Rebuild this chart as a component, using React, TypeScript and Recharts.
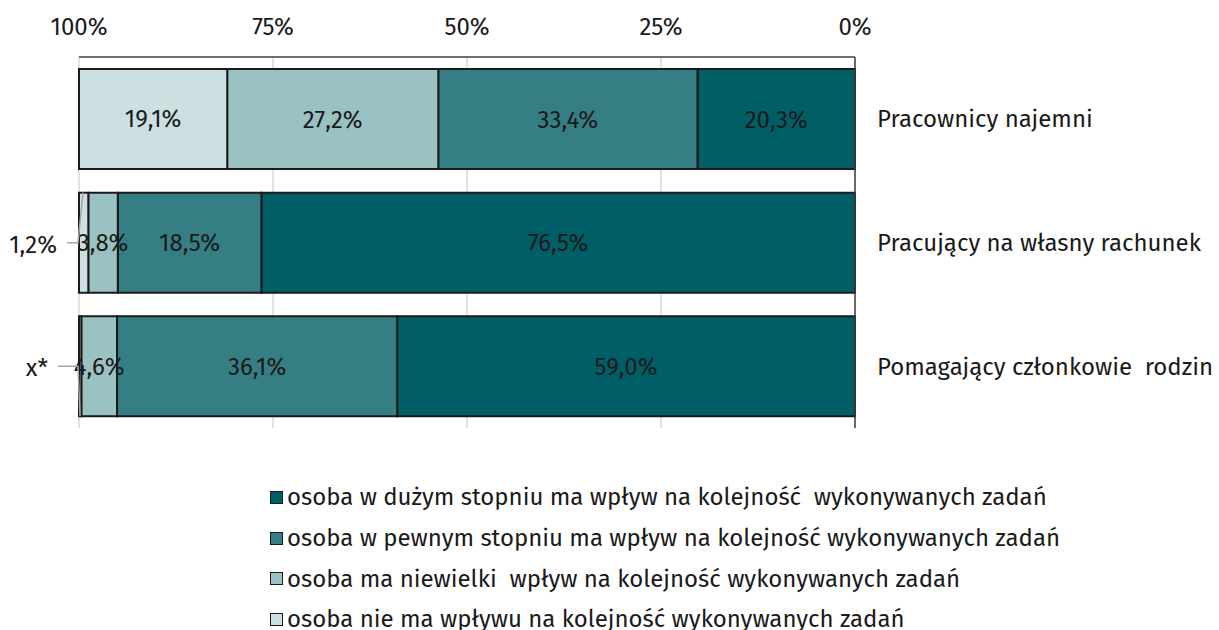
import React from "react";
import { BarChart, Bar, XAxis, YAxis, CartesianGrid, LabelList, Legend } from "recharts";

document.body.style.margin = "0";

const categories = ["Pracownicy najemni", "Pracujący na własny rachunek", "Pomagający członkowie\u00a0 rodzin"];
const duzy = [20.3, 76.5, 59.0];
const pewny = [33.4, 18.5, 36.1];
const niewielki = [27.2, 3.8, 4.6];
const brak = [19.1, 1.2, 0.3];
const brakLabels = ["19,1%", "1,2%", "x*"];
const xTicks = [0, 25, 50, 75, 100];

const seriesNames = [
  "osoba w dużym stopniu ma wpływ na kolejność  wykonywanych zadań",
  "osoba w pewnym stopniu ma wpływ na kolejność wykonywanych zadań",
  "osoba ma niewielki  wpływ na kolejność wykonywanych zadań",
  "osoba nie ma wpływu na kolejność wykonywanych zadań",
];
const colors = ["#005F66", "#357F84", "#9AC2C3", "#CCDFE1"];

const FONT = "'Fira Sans', 'Noto Sans', sans-serif";
const FS = 24;
const TEXT = "#1a1a1a";

const data = categories.map((name, i) => ({
  name,
  duzy: duzy[i],
  pewny: pewny[i],
  niewielki: niewielki[i],
  brak: brak[i],
}));

const fmt = (v: any) => String(v.toFixed(1)).replace(".", ",") + "%";

// lightest segment: centred label in row 1, outside label with leader line in rows 2-3
const BrakLabel = (props: any) => {
  const { x, y, width, height, index } = props;
  const left = Math.min(x, x + width);
  const w = Math.abs(width);
  const top = Math.min(y, y + height);
  const h = Math.abs(height);
  const cy = top + h / 2;
  const text = brakLabels[index];
  if (index === 0) {
    return (
      <text x={left + w / 2} y={cy} textAnchor="middle" dominantBaseline="central" fontSize={FS} fill={TEXT} fontFamily={FONT}>
        {text}
      </text>
    );
  }
  const up = index === 1;
  const endX = up ? left + 4 : left + 1;
  const endY = up ? top : top + h;
  const gap = up ? 12 : 21;
  return (
    <g>
      <polyline
        points={`${left - gap},${cy} ${left - 1},${cy} ${endX},${endY}`}
        fill="none"
        stroke="#a6a6a6"
        strokeWidth={1.5}
      />
      <text x={left - gap - 10} y={cy + 2} textAnchor="end" dominantBaseline="central" fontSize={FS} fill={TEXT} fontFamily={FONT}>
        {text}
      </text>
    </g>
  );
};

const LegendContent = () => (
  <div style={{ fontFamily: FONT, fontSize: FS, color: TEXT }}>
    {seriesNames.map((n, i) => (
      <div key={n} style={{ display: "flex", alignItems: "center", height: 40.7, whiteSpace: "pre" }}>
        <span
          style={{
            display: "inline-block",
            width: 11,
            height: 11,
            background: colors[i],
            border: "1.5px solid #1a1a1a",
            marginRight: 4,
          }}
        />
        {n}
      </div>
    ))}
  </div>
);

export default function App() {
  return (
    <div style={{ width: 1219, height: 630, overflow: "hidden", background: "#fff" }}>
      <BarChart
        width={1219}
        height={630}
        data={data}
        layout="vertical"
        margin={{ top: 0, right: 0, bottom: 202, left: 79 }}
        barSize={100}
      >
        <CartesianGrid horizontal={false} stroke="#d9d9d9" strokeWidth={1.5} />
        <XAxis
          type="number"
          domain={[0, 100]}
          ticks={xTicks}
          reversed
          orientation="top"
          height={57}
          tickLine={false}
          tickSize={0}
          tickMargin={22}
          axisLine={{ stroke: "#404040", strokeWidth: 1.5 }}
          tickFormatter={(v) => v + "%"}
          tick={{ fill: TEXT, fontSize: FS, fontFamily: FONT }}
          interval={0}
        />
        <YAxis
          type="category"
          dataKey="name"
          orientation="right"
          width={364}
          tickLine={false}
          tickSize={0}
          tickMargin={22}
          axisLine={{ stroke: "#404040", strokeWidth: 1.5 }}
          tick={{ fill: TEXT, fontSize: FS, fontFamily: FONT, textAnchor: "start" }}
        />
        <Bar dataKey="duzy" stackId="a" fill={colors[0]} stroke="#1a1a1a" strokeWidth={2} isAnimationActive={false} name={seriesNames[0]}>
          <LabelList dataKey="duzy" position="center" formatter={fmt} fill={TEXT} fontSize={FS} fontFamily={FONT} />
        </Bar>
        <Bar dataKey="pewny" stackId="a" fill={colors[1]} stroke="#1a1a1a" strokeWidth={2} isAnimationActive={false} name={seriesNames[1]}>
          <LabelList dataKey="pewny" position="center" formatter={fmt} fill={TEXT} fontSize={FS} fontFamily={FONT} />
        </Bar>
        <Bar dataKey="niewielki" stackId="a" fill={colors[2]} stroke="#1a1a1a" strokeWidth={2} isAnimationActive={false} name={seriesNames[2]}>
          <LabelList dataKey="niewielki" position="center" formatter={fmt} fill={TEXT} fontSize={FS} fontFamily={FONT} />
        </Bar>
        <Bar dataKey="brak" stackId="a" fill={colors[3]} stroke="#1a1a1a" strokeWidth={2} isAnimationActive={false} name={seriesNames[3]}>
          <LabelList dataKey="brak" content={<BrakLabel />} />
        </Bar>
        <Legend
          layout="horizontal"
          verticalAlign="middle"
          align="center"
          content={<LegendContent />}
          wrapperStyle={{ top: 477, left: 270, width: 940 }}
        />
      </BarChart>
    </div>
  );
}
